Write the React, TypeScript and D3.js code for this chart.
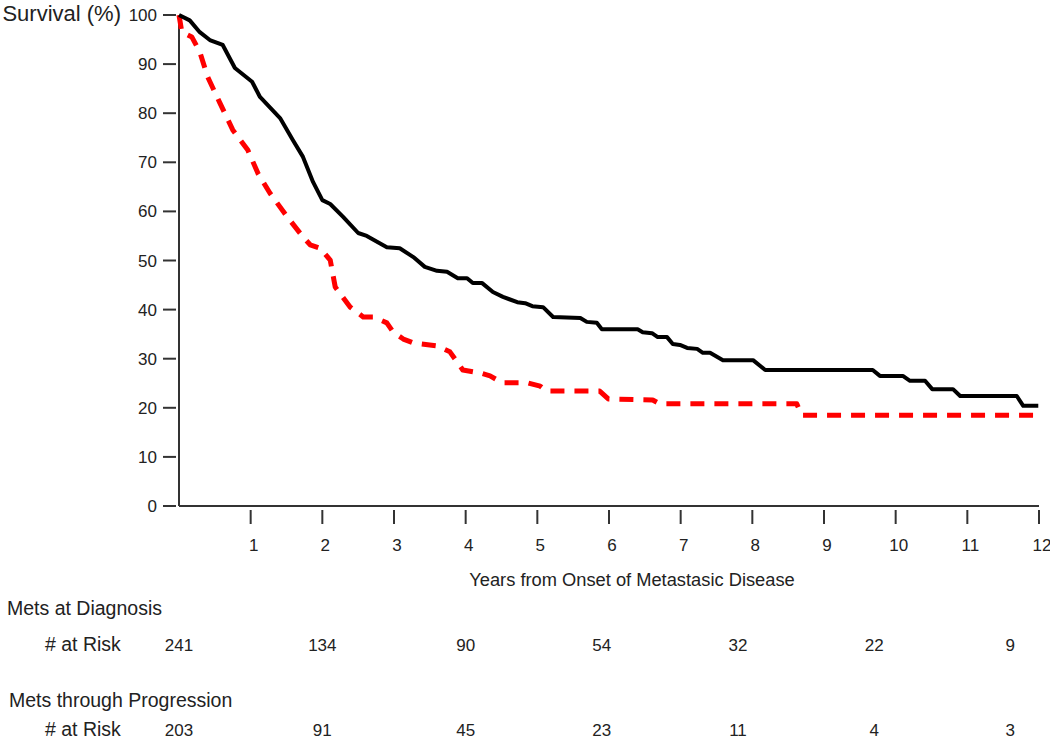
import * as d3 from "d3";

// Kaplan-Meier curves (years, survival %)
const diagYears = [0, 0.15, 0.29, 0.43, 0.61, 0.78, 1.02, 1.13, 1.41, 1.59, 1.73, 1.87, 2.0, 2.11, 2.29, 2.5, 2.62, 2.9, 3.08, 3.27, 3.43, 3.6, 3.74, 3.89, 4.02, 4.1, 4.23, 4.38, 4.52, 4.72, 4.83, 4.93, 5.08, 5.22, 5.6, 5.69, 5.83, 5.9, 6.4, 6.47, 6.6, 6.68, 6.81, 6.89, 6.99, 7.09, 7.23, 7.31, 7.41, 7.59, 8.01, 8.18, 9.68, 9.78, 10.1, 10.2, 10.41, 10.51, 10.8, 10.9, 11.69, 11.78, 11.99];
const diagSurv = [100, 98.9, 96.5, 94.9, 93.9, 89.2, 86.4, 83.3, 79.0, 74.5, 71.1, 66.0, 62.3, 61.5, 58.9, 55.6, 55.0, 52.7, 52.5, 50.7, 48.7, 47.9, 47.7, 46.4, 46.4, 45.4, 45.4, 43.6, 42.6, 41.5, 41.3, 40.7, 40.5, 38.5, 38.3, 37.5, 37.3, 36.0, 36.0, 35.4, 35.2, 34.4, 34.4, 33.0, 32.8, 32.2, 32.0, 31.2, 31.2, 29.7, 29.7, 27.7, 27.7, 26.5, 26.5, 25.5, 25.5, 23.8, 23.8, 22.4, 22.4, 20.4, 20.4];

const progYears = [0, 0.04, 0.18, 0.29, 0.4, 0.57, 0.75, 0.96, 1.1, 1.27, 1.51, 1.73, 1.83, 1.97, 2.11, 2.18, 2.39, 2.57, 2.71, 2.9, 2.99, 3.13, 3.27, 3.6, 3.78, 3.96, 4.2, 4.34, 4.51, 4.86, 5.04, 5.13, 5.87, 5.99, 6.61, 6.71, 8.62, 8.69, 11.99];
const progSurv = [100, 96.5, 95.5, 92.5, 87.4, 82.1, 76.6, 72.5, 67.8, 63.7, 58.9, 54.8, 53.2, 52.5, 50.1, 44.6, 40.5, 38.5, 38.5, 37.3, 35.4, 34.0, 33.2, 32.6, 31.4, 27.7, 27.1, 26.5, 25.1, 25.1, 24.4, 23.4, 23.4, 21.8, 21.6, 20.8, 20.8, 18.5, 18.5];

const yTicks = [0, 10, 20, 30, 40, 50, 60, 70, 80, 90, 100];
const xTicks = [1, 2, 3, 4, 5, 6, 7, 8, 9, 10, 11, 12];

// numbers at risk table
const riskYears = [0, 2, 4, 5.9, 7.8, 9.7, 11.6];
const riskDiag = [241, 134, 90, 54, 32, 22, 9];
const riskProg = [203, 91, 45, 23, 11, 4, 3];

const width = 1050;
const height = 741;
const font = "'Liberation Sans', Arial, sans-serif";
const axisColor = "#333";

export default function App() {
  const x = d3.scaleLinear([0, 12], [179, 1039]);
  const y = d3.scaleLinear([0, 100], [506, 15]);

  const line = d3
    .line<[number, number]>()
    .x((d) => x(d[0]))
    .y((d) => y(d[1]));

  const diag = diagYears.map((t, i) => [t, diagSurv[i]] as [number, number]);
  const prog = progYears.map((t, i) => [t, progSurv[i]] as [number, number]);

  return (
    <svg
      width={width}
      height={height}
      style={{ position: "absolute", left: 0, top: 0, background: "#fff" }}
      fontFamily={font}
    >
      <rect width={width} height={height} fill="#fff" />

      {/* y axis */}
      <line x1={x(0)} x2={x(0)} y1={y(100)} y2={y(0)} stroke={axisColor} strokeWidth={2} />
      {yTicks.map((v) => (
        <g key={v}>
          <line x1={163} x2={176} y1={y(v)} y2={y(v)} stroke={axisColor} strokeWidth={2} />
          <text x={157} y={y(v) + 6} textAnchor="end" fontSize={17} fill="#222">
            {v}
          </text>
        </g>
      ))}
      <text x={121} y={21} textAnchor="end" fontSize={22} fill="#222">
        Survival (%)
      </text>

      {/* x axis */}
      <line x1={x(0)} x2={x(12)} y1={y(0)} y2={y(0)} stroke={axisColor} strokeWidth={2} />
      {xTicks.map((t) => (
        <g key={t}>
          <line x1={x(t)} x2={x(t)} y1={510} y2={524} stroke={axisColor} strokeWidth={2} />
          <text x={x(t) + 3} y={551} textAnchor="middle" fontSize={17} fill="#222">
            {t}
          </text>
        </g>
      ))}
      <text x={632} y={586} textAnchor="middle" fontSize={18.3} fill="#222">
        Years from Onset of Metastasic Disease
      </text>

      {/* curves */}
      <path
        d={line(prog) ?? ""}
        fill="none"
        stroke="#ff0000"
        strokeWidth={5}
        strokeDasharray="14,10"
        strokeLinejoin="round"
      />
      <path d={line(diag) ?? ""} fill="none" stroke="#000" strokeWidth={4} strokeLinejoin="round" />

      {/* at risk table */}
      <text x={7} y={615} fontSize={19.5} fill="#222">
        Mets at Diagnosis
      </text>
      <text x={45} y={651} fontSize={19.5} fill="#222">
        # at Risk
      </text>
      {riskDiag.map((n, i) => (
        <text key={"d" + i} x={x(riskYears[i])} y={651} textAnchor="middle" fontSize={17} fill="#222">
          {n}
        </text>
      ))}
      <text x={9} y={707} fontSize={19.5} fill="#222">
        Mets through Progression
      </text>
      <text x={45} y={736} fontSize={19.5} fill="#222">
        # at Risk
      </text>
      {riskProg.map((n, i) => (
        <text key={"p" + i} x={x(riskYears[i])} y={736} textAnchor="middle" fontSize={17} fill="#222">
          {n}
        </text>
      ))}
    </svg>
  );
}
